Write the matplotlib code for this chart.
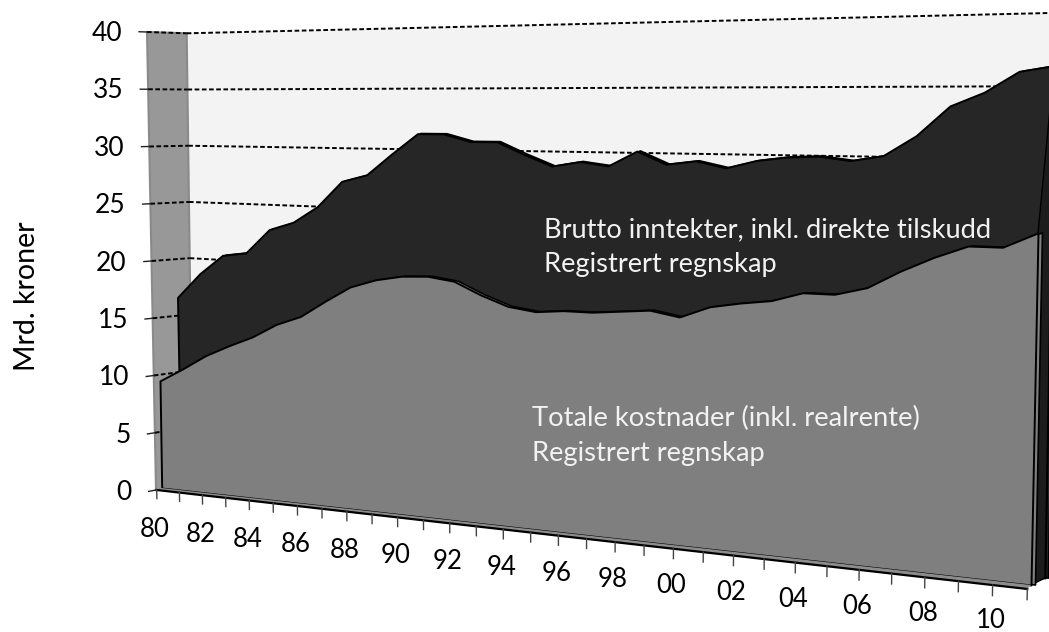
#3D looking area chart, income and costs in Mrd. kroner
import numpy as np
import matplotlib
matplotlib.use('Agg')
import matplotlib.pyplot as plt
import matplotlib.transforms as mtransforms
from matplotlib.patches import Polygon

#data, 1980 to 2011
steps = np.arange(32)
year_labels = ['80','82','84','86','88','90','92','94','96','98','00','02','04','06','08','10']
inntekter = [16.6,18.8,20.5,20.8,22.9,23.6,25.0,27.2,27.8,29.6,31.3,31.3,30.7,30.7,29.7,28.8,
             29.2,28.9,30.1,29.1,29.4,28.9,29.5,29.8,29.9,29.6,30.0,31.5,33.7,34.7,36.2,36.6]
kostnader = [9.4,10.6,11.9,12.9,13.8,15.0,15.8,17.2,18.5,19.2,19.6,19.7,19.4,18.4,17.6,17.3,
             17.5,17.5,17.7,17.9,17.5,18.4,18.8,19.1,19.8,19.8,20.4,21.7,22.8,23.7,23.7,24.8]
y_ticks = [0,5,10,15,20,25,30,35,40]

plt.rcParams['font.family'] = ['Lato','DejaVu Sans']


#maps one flat plane of the fake 3D box onto the picture
#a = position along the plane (0 to a_max), b = value (0 to 40), q = how fast the steps grow to the right
class Plane(mtransforms.Transform):
    input_dims = 2
    output_dims = 2

    def __init__(self, p00, p040, p10, p140, a_max = 31, q = 1.245):
        super().__init__()
        self.corners = np.array([p00,p040,p10,p140], float)
        self.a_max = a_max
        self.q = q

    def transform_non_affine(self, values):
        values = np.asarray(values, float)
        u = values[:,0] / self.a_max
        tau = (u / (u + self.q*(1-u)))[:,None]
        v = values[:,1:] / 40
        p00, p040, p10, p140 = self.corners
        return (1-tau)*(p00 + (p040-p00)*v) + tau*(p10 + (p140-p10)*v)


fig = plt.figure(figsize = (10.49,6.32), dpi = 100)
ax = fig.add_axes([0,0,1,1])
ax.set_xlim(0,1049)
ax.set_ylim(632,0)
ax.axis('off')
ax.autoscale(False)

back_plane = Plane((192.7,483),(186.7,33.3),(1060,602),(1075,12.4))
rear_plane = Plane((181,485),(172.6,33),(1045,578),(1055,18))
front_plane = Plane((161.7,488),(154.4,32),(1031,585),(1042.3,17))
tick_plane = Plane((156.7,490),(147,32),(1027.3,589),(1038,19))
side_plane = Plane((156,490),(147,32),(192.7,483),(186.7,33.3), a_max = 1, q = 1)

back = back_plane + ax.transData
rear = rear_plane + ax.transData
front = front_plane + ax.transData
tick = tick_plane + ax.transData
side = side_plane + ax.transData
#small depth of each area
rear_depth = rear_plane + mtransforms.Affine2D().translate(3,-0.5) + ax.transData
front_depth = front_plane + mtransforms.Affine2D().translate(4,-0.5) + ax.transData

#walls, the bottom of the back wall is hidden behind the areas anyway
ax.add_patch(Polygon([(0,5),(31,5),(31,40),(0,40)], transform = back, facecolor = '#f3f3f3', edgecolor = 'none', zorder = 1))
ax.add_patch(Polygon([(0,0),(1,0),(1,40),(0,40)], transform = side, facecolor = '#989898', edgecolor = '#8a8a8a', linewidth = 1.5, zorder = 2))

#gridlines and the value axis
dash = (0,(2.4,1.3))
for v in y_ticks[1:]:
    ax.plot([0,31], [v,v], transform = back, color = 'black', linewidth = 1.4, linestyle = dash, zorder = 3)
    ax.plot([0,1], [v,v], transform = side, color = 'black', linewidth = 1.4, linestyle = dash, zorder = 3)
for v in y_ticks:
    ax.plot([-0.2,0], [v,v], transform = side, color = '#222222', linewidth = 1, zorder = 3)
    ax.annotate(str(v), xy = (-0.2,v), xycoords = side, xytext = (-17,-1.5), textcoords = 'offset pixels',
                ha = 'right', va = 'center', fontsize = 19, color = 'black')

#rear area, income
ax.fill_between(steps, 0, inntekter, transform = rear_depth, facecolor = '#262626', edgecolor = 'black', linewidth = 1.4, zorder = 4)
ax.fill_between(steps, 0, inntekter, transform = rear, facecolor = '#262626', edgecolor = 'black', linewidth = 1.4, zorder = 5)

#right end of the box, from front area to rear area
corners = [front_plane.transform([(31,0)])[0], rear_plane.transform([(31,0)])[0],
           rear_plane.transform([(31,inntekter[-1])])[0], front_plane.transform([(31,kostnader[-1])])[0]]
ax.add_patch(Polygon(corners, transform = ax.transData, facecolor = '#1c1c1c', edgecolor = 'black', linewidth = 1, zorder = 6))

#front area, costs
ax.fill_between(steps, 0, kostnader, transform = front_depth, facecolor = '#808080', edgecolor = 'black', linewidth = 1.2, zorder = 7)
ax.fill_between(steps, 0, kostnader, transform = front, facecolor = '#7f7f7f', edgecolor = 'black', linewidth = 1.4, zorder = 8)

#floor strip and ticks
floor = np.vstack([tick_plane.transform([(0,0),(31,0)]), front_plane.transform([(31,0),(0,0)])])
ax.add_patch(Polygon(floor, transform = ax.transData, facecolor = '#8c8c8c', edgecolor = 'none', zorder = 9))
ax.plot([0,31], [0,0], transform = tick, color = 'black', linewidth = 1.6, zorder = 10)
for t in steps:
    ax.plot([t,t], [0,-0.75], transform = tick, color = '#444444', linewidth = 1, zorder = 10)
#labels sit a bit closer to the axis on the right, the last one must stay inside the picture
for i, label in enumerate(year_labels):
    ax.annotate(label, xy = (2*i,0), xycoords = tick, xytext = (-2,-39.5 + i*0.25), textcoords = 'offset pixels',
                ha = 'center', va = 'center', fontsize = 18.5, color = 'black')

#texts
ax.text(27, 296, 'Mrd. kroner', rotation = 90, ha = 'center', va = 'center', fontsize = 20.5, color = 'black')
ax.text(544, 229.5, 'Brutto inntekter, inkl. direkte tilskudd', ha = 'left', va = 'center', fontsize = 19.6, color = '#f2f2f2', zorder = 12)
ax.text(544, 264.5, 'Registrert regnskap', ha = 'left', va = 'center', fontsize = 19.6, color = '#f2f2f2', zorder = 12)
ax.text(532, 418.5, 'Totale kostnader (inkl. realrente)', ha = 'left', va = 'center', fontsize = 19.7, color = '#f2f2f2', zorder = 12)
ax.text(532, 453.5, 'Registrert regnskap', ha = 'left', va = 'center', fontsize = 19.6, color = '#f2f2f2', zorder = 12)

plt.savefig('out.png', dpi = 100)
